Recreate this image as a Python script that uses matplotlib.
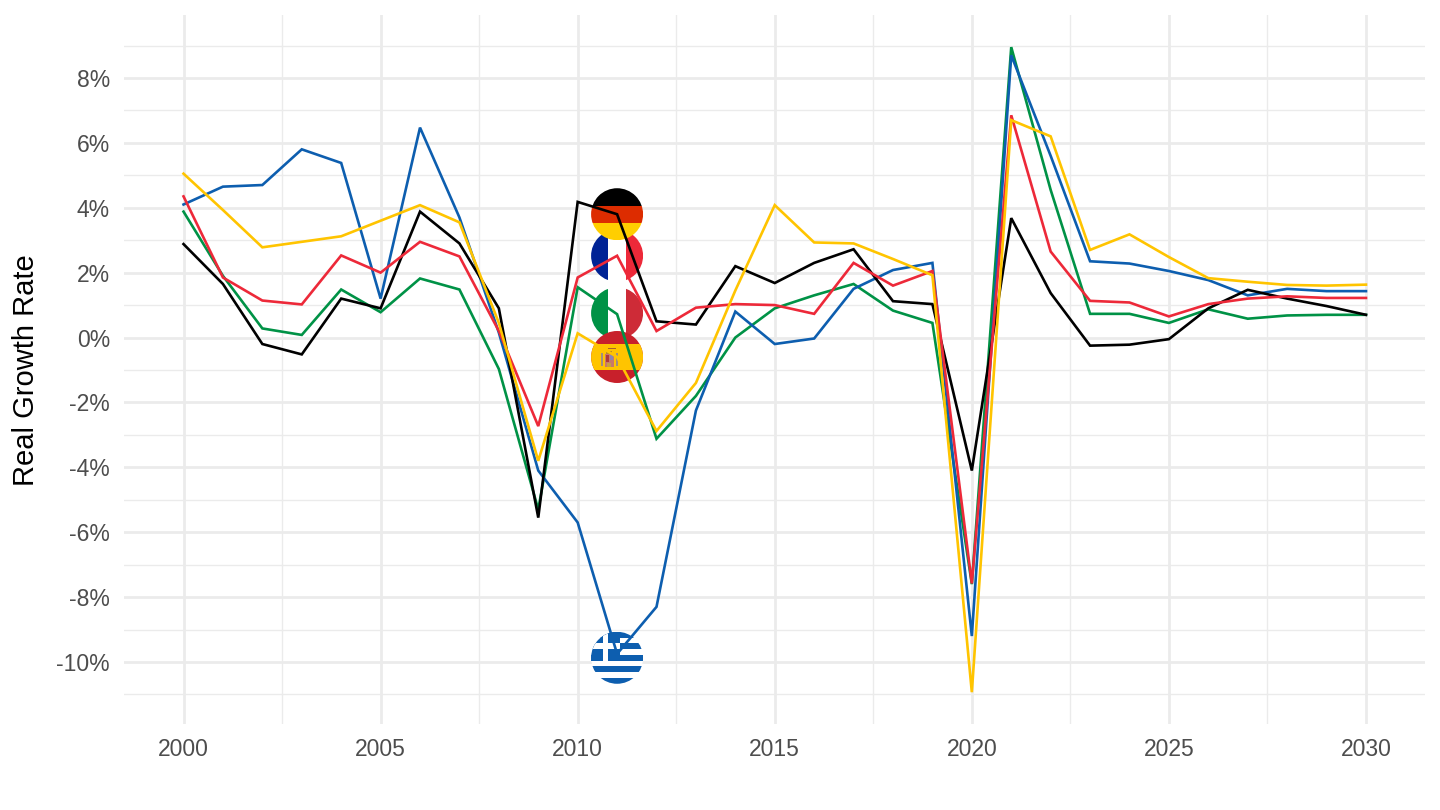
import matplotlib
matplotlib.use('Agg')
import matplotlib.pyplot as plt
from matplotlib.patches import Circle, Rectangle
from matplotlib.transforms import Affine2D

plt.rcParams['font.family'] = ['Liberation Sans', 'DejaVu Sans']

years = list(range(2000, 2031))

germany = [2.88, 1.65, -0.2, -0.52, 1.2, 0.9, 3.88, 2.9, 0.9, -5.55, 4.18, 3.8, 0.5, 0.4, 2.2, 1.68,
           2.3, 2.72, 1.12, 1.03, -4.1, 3.68, 1.37, -0.25, -0.22, -0.05, 0.9, 1.47, 1.2, 0.97, 0.7]
greece = [4.1, 4.65, 4.7, 5.8, 5.38, 1.2, 6.47, 3.7, 0.15, -4.1, -5.7, -9.75, -8.3, -2.25, 0.8, -0.2,
          -0.03, 1.5, 2.08, 2.3, -9.2, 8.7, 5.6, 2.35, 2.28, 2.05, 1.77, 1.3, 1.5, 1.43, 1.43]
italy = [3.88, 1.9, 0.28, 0.08, 1.48, 0.78, 1.82, 1.48, -0.97, -5.3, 1.55, 0.72, -3.12, -1.8, 0.0, 0.9,
         1.3, 1.65, 0.83, 0.45, -7.6, 8.95, 4.55, 0.73, 0.73, 0.45, 0.87, 0.58, 0.68, 0.7, 0.7]
france = [4.35, 1.85, 1.14, 1.02, 2.53, 2.0, 2.95, 2.5, 0.2, -2.73, 1.85, 2.52, 0.2, 0.92, 1.03, 1.0,
          0.73, 2.3, 1.6, 2.05, -7.58, 6.85, 2.65, 1.13, 1.08, 0.65, 1.03, 1.2, 1.27, 1.22, 1.22]
spain = [5.05, 3.93, 2.78, 2.95, 3.12, 3.6, 4.08, 3.55, 0.45, -3.8, 0.13, -0.6, -2.88, -1.4, 1.45, 4.08,
         2.93, 2.9, 2.42, 1.92, -10.93, 6.7, 6.2, 2.7, 3.18, 2.48, 1.83, 1.72, 1.62, 1.6, 1.63]

flag_year = 2011
flag_values = {'Germany': 3.8, 'France': 2.52, 'Italy': 0.75, 'Spain': -0.6, 'Greece': -9.87}

y_major = [-10, -8, -6, -4, -2, 0, 2, 4, 6, 8]
y_labels = ['-10%', '-8%', '-6%', '-4%', '-2%', '0%', '2%', '4%', '6%', '8%']
y_minor = [-11, -9, -7, -5, -3, -1, 1, 3, 5, 7, 9]
x_major = [2000, 2005, 2010, 2015, 2020, 2025, 2030]
x_minor = [2002.5, 2007.5, 2012.5, 2017.5, 2022.5, 2027.5]

BLACK = '#000000'
BLUE = '#0D5EAF'
GREEN = '#009246'
RED = '#ED2939'
YELLOW = '#FFC400'

fig = plt.figure(figsize=(14.4, 8.1), dpi=100)
ax = fig.add_axes([124.4 / 1440, 1 - 724.3 / 810, 1300.7 / 1440, 709.3 / 810])
ax.set_xlim(1998.5, 2031.5)
ax.set_ylim(-11.92, 9.94)

for side in ax.spines.values():
    side.set_visible(False)

ax.set_xticks(x_major)
ax.set_xticks(x_minor, minor=True)
ax.set_yticks(y_major)
ax.set_yticklabels(y_labels)
ax.set_yticks(y_minor, minor=True)
ax.grid(which='major', color='#EBEBEB', linewidth=1.95, zorder=0)
ax.grid(which='minor', color='#EBEBEB', linewidth=1.0, zorder=0)
ax.set_axisbelow(True)
ax.tick_params(which='both', length=0)
ax.tick_params(axis='x', labelsize=16.5, labelcolor='#4D4D4D', pad=10)
ax.tick_params(axis='y', labelsize=16.5, labelcolor='#4D4D4D', pad=10.4)
ax.set_ylabel('Real Growth Rate', fontsize=21, color='black')
ax.yaxis.set_label_coords((40 - 124.4) / 1300.7, 0.5)


# Flag discs, drawn in a unit square and clipped to a circle
def flag_transform(x, y):
    radius = 26
    rx = radius * 33 / 1300.7
    ry = radius * 21.86 / 709.3
    return Affine2D().scale(rx, ry).translate(x, y) + ax.transData


def add_disc(name, zorder):
    trans = flag_transform(flag_year, flag_values[name])
    disc = Circle((0, 0), 1, transform=trans, facecolor='none', edgecolor='none', zorder=zorder)
    ax.add_patch(disc)

    def box(x0, y0, w, h, color, z=0):
        rect = Rectangle((x0, y0), w, h, transform=trans, facecolor=color, edgecolor='none',
                         zorder=zorder + z * 0.01)
        ax.add_patch(rect)
        rect.set_clip_path(disc)
    return box


box = add_disc('France', 2)
box(-1, -1, 2 / 3, 2, '#002395')
box(-1 / 3, -1, 2 / 3, 2, 'white')
box(1 / 3, -1, 2 / 3, 2, RED)

box = add_disc('Germany', 2.5)
box(-1, 1 / 3, 2, 2 / 3, BLACK)
box(-1, -1 / 3, 2, 2 / 3, '#DD2C00')
box(-1, -1, 2, 2 / 3, '#FFCE00')

box = add_disc('Italy', 2)
box(-1, -1, 2 / 3, 2, GREEN)
box(-1 / 3, -1, 2 / 3, 2, 'white')
box(1 / 3, -1, 2 / 3, 2, '#CE2B37')

box = add_disc('Spain', 2.5)
box(-1, -1, 2, 2, '#C8202B')
box(-1, -0.5, 2, 1, YELLOW)
# coat of arms, just a few small blocks
box(-0.48, -0.4, 0.36, 0.5, '#C9796A', 1)
box(-0.42, -0.2, 0.12, 0.26, '#B03A3A', 2)
box(-0.28, -0.12, 0.12, 0.2, '#8A86B0', 2)
box(-0.38, -0.38, 0.16, 0.14, '#C8A040', 2)
box(-0.62, -0.34, 0.09, 0.5, '#A08E80', 2)
box(-0.04, -0.34, 0.09, 0.5, '#A08E80', 2)
box(-0.42, 0.12, 0.24, 0.1, '#B8862E', 2)
box(-0.36, 0.3, 0.3, 0.05, '#A8622A', 2)

box = add_disc('Greece', 2)
box(-1, -1, 2, 2, 'white')
for i in range(0, 9, 2):
    box(-1, 1 - (i + 1) * 2 / 9, 2, 2 / 9, BLUE, 1)
box(-1, 1 - 10 / 9, 10 / 9, 10 / 9, BLUE, 2)
box(-1, 1 - 6 / 9, 10 / 9, 2 / 9, 'white', 3)
box(-1 + 4 / 9, 1 - 10 / 9, 2 / 9, 10 / 9, 'white', 3)

ax.plot(years, italy, color=GREEN, linewidth=1.9, zorder=3, solid_joinstyle='miter')
ax.plot(years, greece, color=BLUE, linewidth=1.9, zorder=3.1, solid_joinstyle='miter')
ax.plot(years, germany, color=BLACK, linewidth=1.9, zorder=3.2, solid_joinstyle='miter')
ax.plot(years, france, color=RED, linewidth=1.9, zorder=3.3, solid_joinstyle='miter')
ax.plot(years, spain, color=YELLOW, linewidth=1.9, zorder=3.4, solid_joinstyle='miter')

plt.savefig('out.png', dpi=100)
